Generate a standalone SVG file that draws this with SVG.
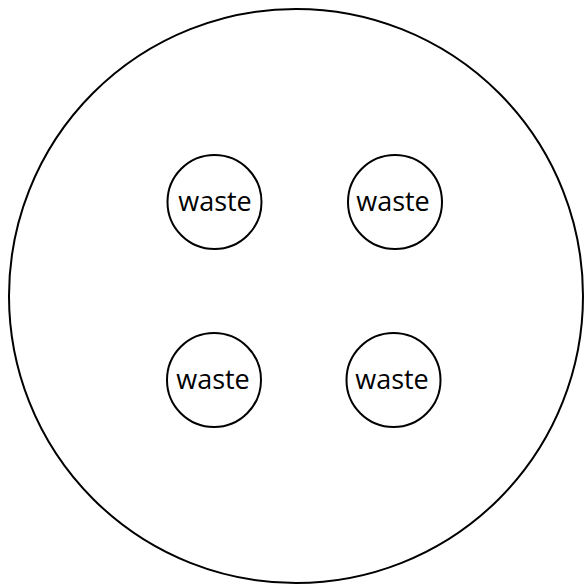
<svg xmlns="http://www.w3.org/2000/svg" width="584" height="587" viewBox="0 0 584 587">
<style>
.c{fill:#fff;stroke:#000;stroke-width:2}
.t{font-family:"Open Sans","Noto Sans",sans-serif;font-size:27px;fill:#000;text-anchor:middle}
</style>
<rect width="584" height="587" fill="#fff"/>
<g id="outer"><circle class="c" cx="296" cy="296" r="287"/></g>
<g id="waste1"><circle class="c" cx="214.5" cy="202" r="47"/><text class="t" x="215" y="211">waste</text></g>
<g id="waste2"><circle class="c" cx="395" cy="202" r="47"/><text class="t" x="393" y="211">waste</text></g>
<g id="waste3"><circle class="c" cx="214" cy="380" r="47"/><text class="t" x="213" y="389">waste</text></g>
<g id="waste4"><circle class="c" cx="393.5" cy="380" r="47"/><text class="t" x="392" y="389">waste</text></g>
<g id="connectors"></g>
</svg>
